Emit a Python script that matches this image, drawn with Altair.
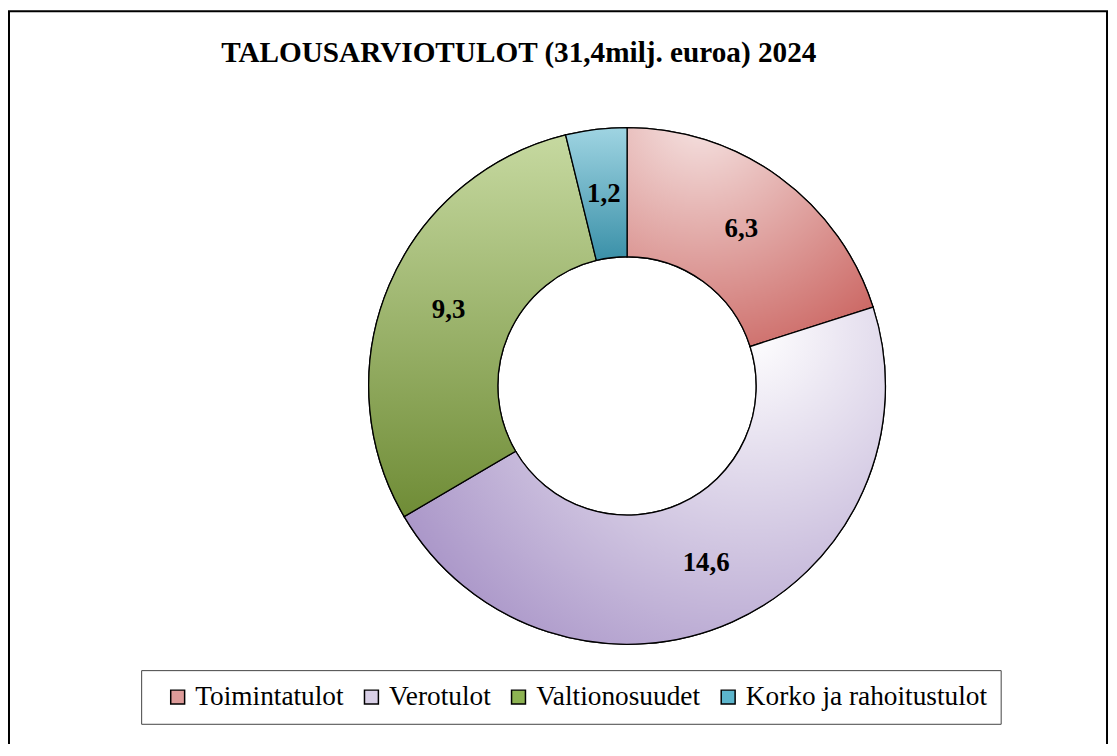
import altair as alt
import pandas as pd

TITLE = "TALOUSARVIOTULOT (31,4milj. euroa) 2024"
categories = ["Toimintatulot", "Verotulot", "Valtionosuudet", "Korko ja rahoitustulot"]
values = [6.3, 14.6, 9.3, 1.2]
legend_colors = ["#dd9b99", "#d8cfe6", "#8db352", "#5cb5cc"]

TOTAL = sum(values)
df = pd.DataFrame({"cat": categories, "value": values, "order": list(range(len(categories)))})

W, H = 1108, 736
CX, CY = 623, 378
R_OUT, R_IN, R_LAB = 260, 130, 195
SERIF = "Liberation Serif"

gradients = {
    "Toimintatulot": alt.Gradient(gradient="radial", x1=0.3, y1=0.0, r1=0.0, x2=0.3, y2=0.0, r2=1.15,
                                  stops=[alt.GradientStop(color="#f6e5e4", offset=0),
                                         alt.GradientStop(color="#c85d59", offset=1)]),
    "Verotulot": alt.Gradient(gradient="radial", x1=0.72, y1=0.2, r1=0.0, x2=0.72, y2=0.2, r2=0.95,
                              stops=[alt.GradientStop(color="#ffffff", offset=0),
                                     alt.GradientStop(color="#9d86c0", offset=1)]),
    "Valtionosuudet": alt.Gradient(gradient="linear", x1=0.5, y1=0.0, x2=0.5, y2=1.0,
                                   stops=[alt.GradientStop(color="#c6d9a0", offset=0),
                                          alt.GradientStop(color="#6f8c36", offset=1)]),
    "Korko ja rahoitustulot": alt.Gradient(gradient="linear", x1=0.5, y1=0.0, x2=0.5, y2=1.0,
                                           stops=[alt.GradientStop(color="#9fd4e2", offset=0),
                                                  alt.GradientStop(color="#3a90a8", offset=1)]),
}

theta_scale = alt.Scale(domain=[0, TOTAL])

base = alt.Chart(df).transform_window(
    cum="sum(value)", sort=[alt.SortField("order")]
).transform_calculate(
    start="datum.cum - datum.value",
    mid="datum.cum - datum.value / 2",
    label="replace(format(datum.value, '.1f'), '.', ',')",
)

solid = base.mark_arc(innerRadius=R_IN, outerRadius=R_OUT, stroke="black", strokeWidth=1.3).encode(
    x=alt.value(CX), y=alt.value(CY),
    theta=alt.Theta("start:Q", scale=theta_scale),
    theta2="cum:Q",
    color=alt.Color("cat:N", scale=alt.Scale(domain=categories, range=legend_colors),
                    legend=alt.Legend(orient="none", legendX=134, legendY=664, direction="horizontal",
                                      columns=4, title=None, labelFont=SERIF, labelFontSize=27.5,
                                      labelColor="black", labelLimit=500, symbolType="square",
                                      symbolSize=196, symbolStrokeColor="black", symbolStrokeWidth=1.5,
                                      strokeColor="#444444", fillColor="white", padding=13,
                                      symbolOffset=10, columnPadding=4, labelOffset=4)),
)

grad_layers = []
for c in categories:
    grad_layers.append(
        base.transform_filter(alt.datum.cat == c).mark_arc(
            innerRadius=R_IN, outerRadius=R_OUT, stroke="black", strokeWidth=1.3, fill=gradients[c]
        ).encode(
            x=alt.value(CX), y=alt.value(CY),
            theta=alt.Theta("start:Q", scale=theta_scale),
            theta2="cum:Q",
        )
    )

labels = base.mark_text(font=SERIF, fontSize=27, fontWeight="bold", color="black",
                        align="center", baseline="middle").encode(
    x=alt.value(CX), y=alt.value(CY),
    theta=alt.Theta("mid:Q", scale=theta_scale),
    radius=alt.value(R_LAB),
    text="label:N",
)

title = alt.Chart(alt.Data(values=[{"t": TITLE}])).mark_text(
    font=SERIF, fontSize=29.4, fontWeight="bold", color="black", align="center", baseline="alphabetic"
).encode(x=alt.value(514), y=alt.value(52), text="t:N")

frame = alt.Chart(alt.Data(values=[{"f": 1}])).mark_rect(
    fill="transparent", stroke="black", strokeWidth=2
).encode(x=alt.value(1), x2=alt.value(W - 2), y=alt.value(1), y2=alt.value(H + 30))

chart = alt.layer(frame, solid, *grad_layers, labels, title).properties(
    width=W, height=H, padding=0, autosize=alt.AutoSizeParams(type="none")
).configure(font=SERIF).configure_view(stroke=None).configure_legend(labelFont=SERIF, labelFontSize=27.5)

chart.save("out.html", embed_options={"renderer": "svg", "actions": False})
